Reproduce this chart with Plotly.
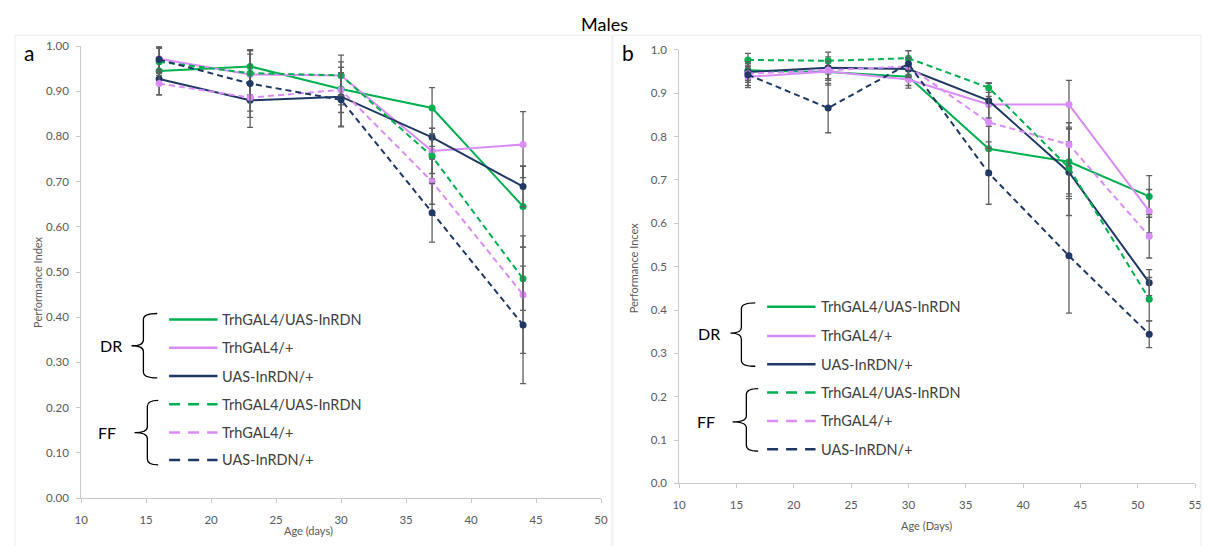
import plotly.graph_objects as go

W, H = 1209, 546

# ---------------- data ----------------
ages_a = [16, 23, 30, 37, 44]
ages_b = [16, 23, 30, 37, 44, 51]

series_names = ["TrhGAL4/UAS-InRDN", "TrhGAL4/+", "UAS-InRDN/+"]

# Panel a: DR (solid) and FF (dashed)
a_dr_trh_uas = [0.945, 0.955, 0.905, 0.863, 0.645]
a_dr_trh = [0.972, 0.937, 0.935, 0.768, 0.782]
a_dr_uas = [0.927, 0.880, 0.888, 0.798, 0.689]
a_ff_trh_uas = [0.965, 0.940, 0.935, 0.756, 0.485]
a_ff_trh = [0.917, 0.886, 0.903, 0.700, 0.450]
a_ff_uas = [0.970, 0.917, 0.881, 0.631, 0.383]

a_dr_trh_uas_err = [0.030, 0.035, 0.035, 0.045, 0.090]
a_dr_trh_err = [0.025, 0.045, 0.030, 0.050, 0.073]
a_dr_uas_err = [0.035, 0.060, 0.065, 0.020, 0.045]
a_ff_trh_uas_err = [0.030, 0.050, 0.045, 0.050, 0.070]
a_ff_trh_err = [0.025, 0.030, 0.050, 0.050, 0.130]
a_ff_uas_err = [0.030, 0.075, 0.060, 0.065, 0.130]

# Panel b
b_dr_trh_uas = [0.953, 0.949, 0.938, 0.772, 0.742, 0.662]
b_dr_trh = [0.938, 0.950, 0.932, 0.874, 0.874, 0.628]
b_dr_uas = [0.949, 0.959, 0.956, 0.883, 0.718, 0.463]
b_ff_trh_uas = [0.977, 0.975, 0.981, 0.913, 0.728, 0.425]
b_ff_trh = [0.945, 0.954, 0.962, 0.833, 0.782, 0.570]
b_ff_uas = [0.943, 0.866, 0.968, 0.716, 0.525, 0.344]

b_dr_trh_uas_err = [0.020, 0.030, 0.020, 0.060, 0.080, 0.048]
b_dr_trh_err = [0.020, 0.020, 0.020, 0.050, 0.056, 0.050]
b_dr_uas_err = [0.020, 0.025, 0.020, 0.040, 0.100, 0.030]
b_ff_trh_uas_err = [0.015, 0.020, 0.018, 0.011, 0.060, 0.050]
b_ff_trh_err = [0.020, 0.020, 0.020, 0.060, 0.050, 0.050]
b_ff_uas_err = [0.030, 0.057, 0.030, 0.072, 0.132, 0.031]

# ---------------- style ----------------
GREEN = "#00b050"
PINK = "#da8cf8"
NAVY = "#203864"
ERR = "#5f5f5f"
AXIS = "#c8c8c8"
FONT = "Lato, Open Sans, sans-serif"
TICKFONT = dict(family=FONT, size=11.5, color="#595959")
DASH = "6px,4px"
colors = [GREEN, PINK, NAVY]


def px(x):
    return x / W


def py(y):
    return 1 - y / H


fig = go.Figure()


def add_series(xs, ys, errs, color, dash, xa, ya, name):
    fig.add_trace(go.Scatter(
        x=xs, y=ys, mode="lines+markers", name=name, showlegend=False,
        xaxis=xa, yaxis=ya,
        line=dict(color=color, width=2, dash=dash),
        marker=dict(color=color, size=7),
        error_y=dict(type="data", array=errs, visible=True,
                     color=ERR, thickness=1.3, width=3),
    ))


panel_a = [
    (a_dr_trh_uas, a_dr_trh_uas_err, GREEN, "solid"),
    (a_dr_trh, a_dr_trh_err, PINK, "solid"),
    (a_dr_uas, a_dr_uas_err, NAVY, "solid"),
    (a_ff_trh_uas, a_ff_trh_uas_err, GREEN, DASH),
    (a_ff_trh, a_ff_trh_err, PINK, DASH),
    (a_ff_uas, a_ff_uas_err, NAVY, DASH),
]
panel_b = [
    (b_dr_trh_uas, b_dr_trh_uas_err, GREEN, "solid"),
    (b_dr_trh, b_dr_trh_err, PINK, "solid"),
    (b_dr_uas, b_dr_uas_err, NAVY, "solid"),
    (b_ff_trh_uas, b_ff_trh_uas_err, GREEN, DASH),
    (b_ff_trh, b_ff_trh_err, PINK, DASH),
    (b_ff_uas, b_ff_uas_err, NAVY, DASH),
]
for i, (ys, es, c, d) in enumerate(panel_a):
    add_series(ages_a, ys, es, c, d, "x", "y", series_names[i % 3])
for i, (ys, es, c, d) in enumerate(panel_b):
    add_series(ages_b, ys, es, c, d, "x2", "y2", series_names[i % 3])

axis_common = dict(showgrid=False, zeroline=False, showline=True, linecolor=AXIS,
                   linewidth=1, ticks="outside", tickcolor=AXIS, ticklen=4,
                   tickfont=TICKFONT)

fig.update_layout(
    width=W, height=H, margin=dict(l=0, r=0, t=0, b=0),
    paper_bgcolor="white", plot_bgcolor="white",
    xaxis=dict(domain=[px(75), px(601)], range=[10, 50], dtick=5, anchor="y",
               ticklabelstandoff=7, **axis_common),
    yaxis=dict(domain=[py(503), py(40)], range=[0, 1], dtick=0.1, tickformat=".2f",
               anchor="x", ticklabelstandoff=5, **axis_common),
    xaxis2=dict(domain=[px(680), px(1202)], range=[10, 55], dtick=5, anchor="y2",
                ticklabelstandoff=7, **axis_common),
    yaxis2=dict(domain=[py(488), py(44)], range=[0, 1], dtick=0.1, tickformat=".1f",
                anchor="x2", ticklabelstandoff=5, **axis_common),
)

annotations = []
shapes = []


def label(text, x, y, size, color, angle=0, xanchor="center"):
    annotations.append(dict(text=text, x=px(x), y=py(y), xref="paper", yref="paper",
                            xanchor=xanchor, yanchor="middle", showarrow=False,
                            textangle=angle,
                            font=dict(family=FONT, size=size, color=color)))


# titles and axis labels
label("Males", 604, 17, 18, "black")
label("a", 22, 47, 21, "black")
label("b", 628, 47, 21, "black")
label("Performance Index", 31, 282, 11, "#595959", angle=-90)
label("Performance Incex", 634, 268, 11, "#595959", angle=-90)
label("Age (days)", 305, 536, 11, "#595959")
label("Age (Days)", 930, 531, 11, "#595959")

# faint chart-area borders
shapes.append(dict(type="rect", xref="paper", yref="paper", x0=px(8), x1=px(612),
                   y0=py(560), y1=py(29), line=dict(color="#ececec", width=1)))
shapes.append(dict(type="rect", xref="paper", yref="paper", x0=px(613), x1=px(1208),
                   y0=py(560), y1=py(29), line=dict(color="#ececec", width=1)))


def brace_path(xe, xv, xt, yt, ym, yb, r=6):
    pts = [
        ("M", (xe, yt)), ("Q", (xv, yt), (xv, yt + r)), ("L", (xv, ym - r)),
        ("Q", (xv, ym), (xt, ym)), ("Q", (xv, ym), (xv, ym + r)), ("L", (xv, yb - r)),
        ("Q", (xv, yb), (xe, yb)),
    ]
    out = []
    for cmd, *ps in pts:
        out.append(cmd + " " + " ".join(f"{px(x):.5f},{py(y):.5f}" for x, y in ps))
    return " ".join(out)


def legend_block(x0, x1, xtext, rows, dr, ff, braces):
    for i, yrow in enumerate(rows):
        color = colors[i % 3]
        dash = "solid" if i < 3 else "11px,8px"
        shapes.append(dict(type="line", xref="paper", yref="paper",
                           x0=px(x0), x1=px(x1), y0=py(yrow), y1=py(yrow),
                           line=dict(color=color, width=2.5, dash=dash)))
        label(series_names[i % 3], xtext, yrow, 14.5, "#404040", xanchor="left")
    label("DR", dr[0], dr[1], 16, "black")
    label("FF", ff[0], ff[1], 16, "black")
    for b in braces:
        shapes.append(dict(type="path", xref="paper", yref="paper",
                           path=brace_path(*b),
                           line=dict(color="black", width=1.3)))


legend_block(164, 213, 216, [320, 349, 378, 407, 436, 464], (105, 347), (101, 436),
             [(152, 138, 126, 314, 347, 380), (153, 142, 129, 403, 436, 469)])
legend_block(769, 818, 822, [307, 337, 366, 395, 424, 453], (710, 334), (707, 425),
             [(757, 743, 732, 303, 334, 368), (760, 748, 734, 391, 425, 455)])

fig.update_layout(annotations=annotations, shapes=shapes)

fig.write_html("out.html")
